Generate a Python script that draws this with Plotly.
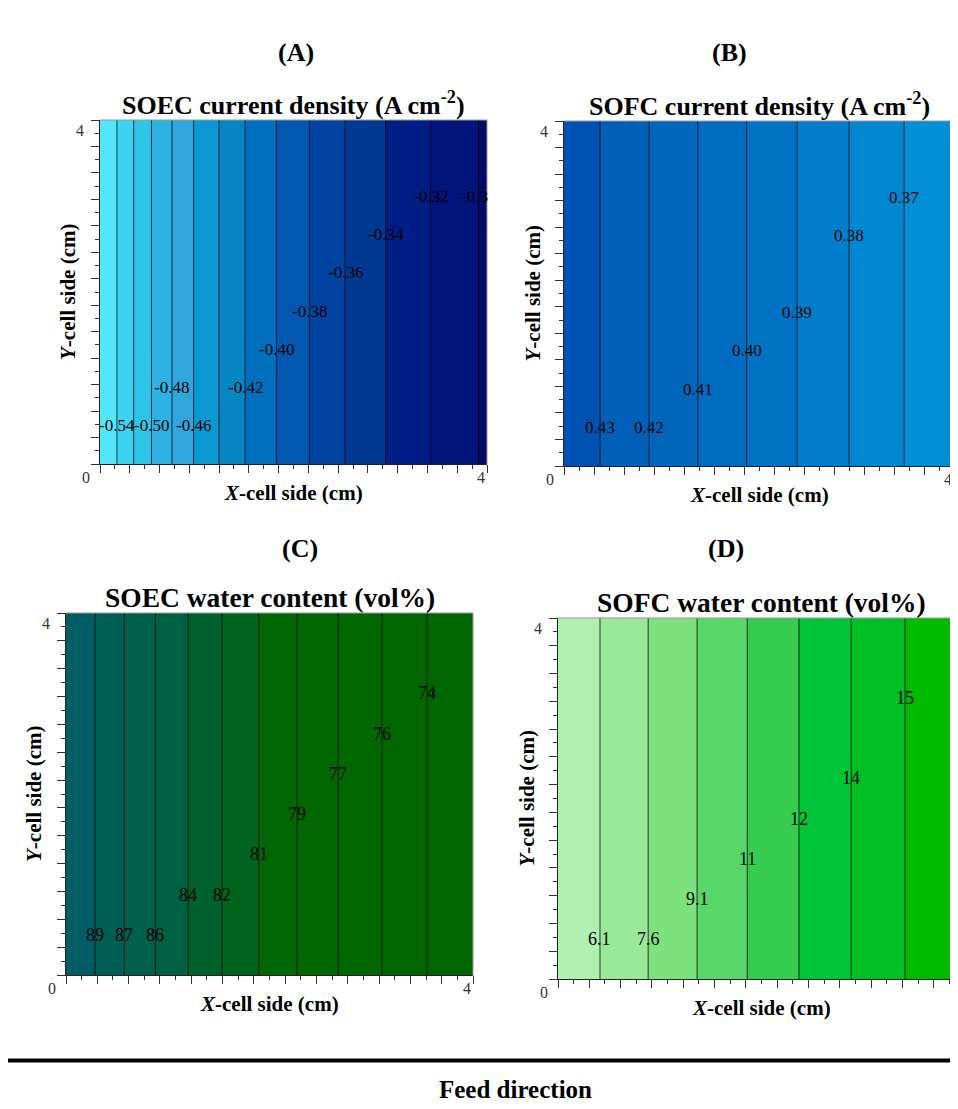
import numpy as np
import plotly.graph_objects as go

W, H = 958, 1109

# ---------------- data ----------------
x_cm = [0, 0.25, 0.5, 0.75, 1.0, 1.25, 1.5, 1.75, 2.0, 2.25, 2.5, 2.75, 3.0, 3.25, 3.5, 3.75, 4.0]
y_cm = [0, 4]

soec_current = [-0.561, -0.531, -0.503, -0.4794, -0.4571, -0.4385, -0.4200, -0.4044, -0.3894,
                -0.3751, -0.3616, -0.3495, -0.3378, -0.3270, -0.3164, -0.3064, -0.2964]
sofc_current = [0.4374, 0.4324, 0.4274, 0.4224, 0.4175, 0.4125, 0.4074, 0.4024, 0.3975,
                0.3927, 0.3879, 0.3832, 0.3786, 0.3742, 0.3698, 0.3655, 0.3611]
soec_water = [90.53, 89.10, 87.67, 86.31, 85.01, 83.76, 82.53, 81.38, 80.28,
              79.21, 78.18, 77.19, 76.24, 75.32, 74.41, 73.51, 72.60]
sofc_water = [4.79, 5.58, 6.38, 7.17, 7.96, 8.74, 9.51, 10.27, 11.02,
              11.75, 12.49, 13.22, 13.94, 14.65, 15.35, 16.03, 16.71]

# contour levels (start, end, size)
soec_current_levels = (-0.54, -0.30, 0.02)
sofc_current_levels = (0.37, 0.43, 0.01)
soec_water_levels = (74.23, 88.90, 1.63)
sofc_water_levels = (6.1, 16.6, 1.5)

# labelled contour levels, their text, and label row (row * 4/9 cm)
soec_current_labels = [(-0.54, "-0.54", 1), (-0.50, "-0.50", 1), (-0.46, "-0.46", 1),
                       (-0.48, "-0.48", 2), (-0.42, "-0.42", 2), (-0.40, "-0.40", 3),
                       (-0.38, "-0.38", 4), (-0.36, "-0.36", 5), (-0.34, "-0.34", 6),
                       (-0.32, "-0.32", 7), (-0.30, "-0.3", 7)]
sofc_current_labels = [(0.43, "0.43", 1), (0.42, "0.42", 1), (0.41, "0.41", 2), (0.40, "0.40", 3),
                       (0.39, "0.39", 4), (0.38, "0.38", 6), (0.37, "0.37", 7)]
soec_water_labels = [(88.90, "89", 1), (87.27, "87", 1), (85.64, "86", 1), (84.01, "84", 2),
                     (82.38, "82", 2), (80.75, "81", 3), (79.12, "79", 4), (77.49, "77", 5),
                     (75.86, "76", 6), (74.23, "74", 7)]
sofc_water_labels = [(6.1, "6.1", 1), (7.6, "7.6", 1), (9.1, "9.1", 2), (10.6, "11", 3),
                     (12.1, "12", 4), (13.6, "14", 5), (15.1, "15", 7)]

# band colours, from lowest value band to highest value band
soec_current_colors = ['#55E5FB', '#3CD3F0', '#2EC6E8', '#2DB2E3', '#30A6DD', '#0A98D3', '#0585C2',
                       '#0070BE', '#0058B0', '#0043A0', '#003892', '#001C85', '#00147A', '#000C6A']
sofc_current_colors = ['#008ED5', '#0087D1', '#007DCB', '#0072C4', '#006CC0', '#0066BC', '#005FB7', '#0052B2']
soec_water_colors = ['#006700', '#006700', '#006701', '#006703', '#006705', '#00641E',
                     '#00622A', '#006042', '#00604A', '#005F55', '#005D66']
sofc_water_colors = ['#B0F0B0', '#98EA98', '#7DE17D', '#58D668', '#35CC50', '#00C43A', '#00BF25', '#00BA00', '#00B000']

panel_titles = ["SOEC current density (A cm<sup>-2</sup>)", "SOFC current density (A cm<sup>-2</sup>)",
                "SOEC water content (vol%)", "SOFC water content (vol%)"]
panel_letters = ["(A)", "(B)", "(C)", "(D)"]
axis_min_label, axis_max_label = "0", "4"

# ---------------- layout geometry (pixels) ----------------
boxes = [(92, 479, 112, 456), (556, 946, 113, 458), (58, 465, 605, 967), (550, 957, 610, 971)]
letter_pos = [(268, 28), (741, 28), (272, 541), (738, 541)]
title_sizes = [26, 26, 27.5, 27.5]
label_sizes = [17, 17, 18, 18]

SERIF = "Liberation Serif, Times New Roman, serif"
LINE_COL = "rgba(0,0,0,0.75)"
TICK_COL = "#333"

panels = [
    (soec_current, soec_current_levels, soec_current_labels, soec_current_colors),
    (sofc_current, sofc_current_levels, sofc_current_labels, sofc_current_colors),
    (soec_water, soec_water_levels, soec_water_labels, soec_water_colors),
    (sofc_water, sofc_water_levels, sofc_water_labels, sofc_water_colors),
]

fig = go.Figure()
annotations = []
shapes = []

major = [4 * k / 13 for k in range(14)]
minor = [4 * (2 * k + 1) / 26 for k in range(13)]
tick_font = dict(family=SERIF, size=16, color=TICK_COL)

for i, (vals, (st, en, sz), labels, cols) in enumerate(panels):
    n = i + 1
    xa = "x" if n == 1 else f"x{n}"
    ya = "y" if n == 1 else f"y{n}"
    nc = len(cols) - 1
    cscale = [[k / nc, c] for k, c in enumerate(cols)]
    z = [vals, vals]
    fig.add_trace(go.Contour(
        x=x_cm, y=y_cm, z=z, xaxis=xa, yaxis=ya,
        contours=dict(start=st, end=en + sz / 1000, size=sz, coloring="fill", showlines=True),
        line=dict(color=LINE_COL, width=1, smoothing=0),
        colorscale=cscale, showscale=False, hoverinfo="skip",
    ))

    x0, x1, y0, y1 = boxes[i]
    xdom = [x0 / W, x1 / W]
    ydom = [1 - y1 / H, 1 - y0 / H]
    axis_common = dict(range=[0, 4], showgrid=False, zeroline=False, showline=True, automargin=False,
                       linecolor="#222", linewidth=1, ticks="outside", tickmode="array",
                       tickvals=major, showticklabels=False, ticklen=8, tickcolor=TICK_COL, tickwidth=1,
                       minor=dict(tickmode="array", tickvals=minor, ticklen=4, ticks="outside",
                                  tickcolor=TICK_COL, tickwidth=1),
                       fixedrange=True)
    fig.layout[("xaxis" if n == 1 else f"xaxis{n}")] = dict(domain=xdom, anchor=ya, **axis_common)
    fig.layout[("yaxis" if n == 1 else f"yaxis{n}")] = dict(domain=ydom, anchor=xa, **axis_common)

    xd = f"{xa} domain"
    yd = f"{ya} domain"
    # top & right frame
    shapes.append(dict(type="line", xref=xd, yref=yd, x0=0, x1=1, y0=1, y1=1, line=dict(color="#999", width=1)))
    shapes.append(dict(type="line", xref=xd, yref=yd, x0=1, x1=1, y0=0, y1=1, line=dict(color="#999", width=1)))

    # contour labels: x of each level crossing from the data profile
    v = np.array(vals)
    xs = np.array(x_cm)
    order = np.argsort(v)
    for lev, txt, row in labels:
        xc = float(np.interp(lev, v[order], xs[order]))
        shift = -4 if txt == "-0.3" else 0
        annotations.append(dict(x=xc, y=row * 4 / 9, xref=xa, yref=ya, text=txt, showarrow=False,
                                xshift=shift, font=dict(family=SERIF, size=label_sizes[i], color="#000")))

    # tick labels
    annotations.append(dict(x=0, y=0, xref=xd, yref=yd, xshift=-20, yshift=-24, showarrow=False,
                            text=axis_min_label, font=tick_font))
    annotations.append(dict(x=1, y=0, xref=xd, yref=yd, yshift=-24, showarrow=False,
                            text=axis_max_label, font=tick_font))
    annotations.append(dict(x=0, y=1, xref=xd, yref=yd, xshift=-26, showarrow=False,
                            text=axis_max_label, font=tick_font))

    # panel title
    annotations.append(dict(x=0.5, y=1, xref=xd, yref=yd, yshift=16, yanchor="middle", showarrow=False,
                            text=f"<b>{panel_titles[i]}</b>",
                            font=dict(family=SERIF, size=title_sizes[i], color="#000")))
    # x-axis title
    annotations.append(dict(x=0.5, y=0, xref=xd, yref=yd, yshift=-29, yanchor="middle", showarrow=False,
                            text="<b><i>X</i>-cell side (cm)</b>", font=dict(family=SERIF, size=21, color="#000")))
    # y-axis title
    annotations.append(dict(x=0, y=0.5, xref=xd, yref=yd, xshift=-32, xanchor="center", showarrow=False,
                            textangle=-90, text="<b><i>Y</i>-cell side (cm)</b>",
                            font=dict(family=SERIF, size=21, color="#000")))
    # panel letter
    lx, ly = letter_pos[i]
    annotations.append(dict(x=lx / W, y=1 - ly / H, xref="paper", yref="paper", showarrow=False,
                            text=f"<b>{panel_letters[i]}</b>", font=dict(family=SERIF, size=26, color="#000")))

# separator line and feed direction caption
shapes.append(dict(type="line", xref="paper", yref="paper", x0=0, x1=1, y0=1 - 1052.5 / H, y1=1 - 1052.5 / H,
                   line=dict(color="#000", width=4)))
annotations.append(dict(x=507 / W, y=1 - 1097 / H, xref="paper", yref="paper", showarrow=False,
                        text="<b>Feed direction</b>", font=dict(family=SERIF, size=25, color="#000")))

fig.update_layout(width=W, height=H, margin=dict(l=0, r=0, t=0, b=0, pad=0, autoexpand=False),
                  paper_bgcolor="white", plot_bgcolor="white", showlegend=False,
                  annotations=annotations, shapes=shapes)

fig.write_html("out.html")
